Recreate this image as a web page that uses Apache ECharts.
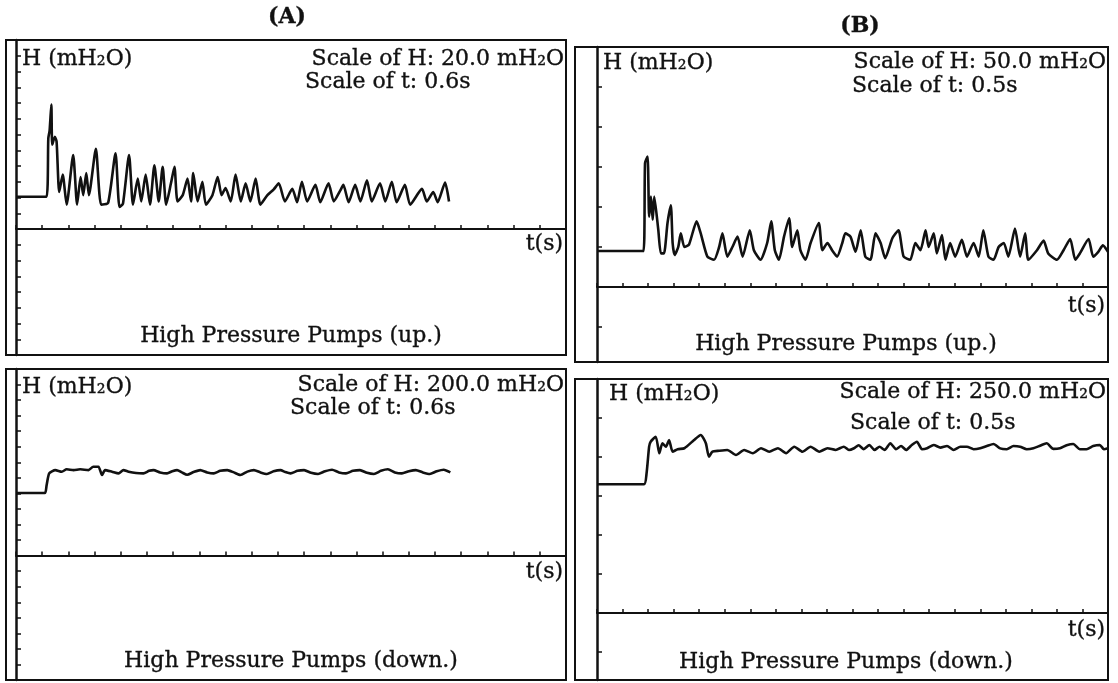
<!DOCTYPE html>
<html>
<head>
<meta charset="utf-8">
<script src="https://cdn.jsdelivr.net/npm/echarts@6/dist/echarts.min.js"></script>
<style>html,body{margin:0;padding:0;background:#fff}#c{width:1118px;height:683px}</style>
</head>
<body>
<div id="c"></div>
<script>
// ---- Data: [time (s), H (mH2O)] ----
const upA = [[0,41],[0.70,41],[0.74,115],[0.77,125],[0.81,158],[0.83,107],[0.89,117],[0.93,111],[0.99,47],[1.07,69],[1.16,31],[1.31,94],[1.40,31],[1.48,66],[1.54,43],[1.61,71],[1.67,43],[1.83,102],[1.95,31],[2.11,33],[2.28,96],[2.37,28],[2.45,32],[2.59,94],[2.68,31],[2.79,64],[2.87,35],[2.97,69],[3.07,31],[3.17,81],[3.27,35],[3.36,79],[3.44,31],[3.55,58],[3.63,79],[3.70,35],[3.82,43],[3.93,64],[4.01,35],[4.06,71],[4.16,35],[4.27,60],[4.35,31],[4.50,43],[4.62,66],[4.71,43],[4.80,52],[4.92,35],[5.03,69],[5.15,35],[5.26,58],[5.37,35],[5.49,64],[5.60,31],[5.76,43],[5.90,50],[6.02,58],[6.16,35],[6.33,51],[6.44,34],[6.55,60],[6.67,35],[6.86,56],[6.97,34],[7.16,58],[7.28,35],[7.43,49],[7.50,56],[7.62,34],[7.77,56],[7.89,35],[8.04,62],[8.15,35],[8.34,58],[8.46,35],[8.61,60],[8.72,34],[8.91,56],[9.03,31],[9.30,51],[9.41,35],[9.56,47],[9.66,34],[9.83,59],[9.92,35]];

const downA = [[0,805],[0.66,805],[0.70,900],[0.76,1058],[0.90,1100],[1.05,1079],[1.16,1110],[1.32,1100],[1.47,1110],[1.66,1100],[1.77,1143],[1.89,1143],[1.97,1036],[2.04,1100],[2.20,1079],[2.35,1058],[2.46,1100],[2.58,1079],[2.75,1062],[2.92,1058],[3.05,1090],[3.15,1100],[3.30,1070],[3.46,1058],[3.58,1085],[3.69,1100],[3.80,1070],[3.92,1040],[4.07,1075],[4.22,1100],[4.38,1070],[4.53,1058],[4.68,1090],[4.84,1100],[4.99,1070],[5.14,1036],[5.30,1080],[5.45,1100],[5.60,1070],[5.75,1050],[5.90,1085],[6.06,1100],[6.17,1075],[6.29,1058],[6.45,1090],[6.60,1100],[6.76,1065],[6.92,1050],[7.08,1085],[7.24,1105],[7.40,1070],[7.56,1058],[7.72,1090],[7.88,1100],[8.04,1065],[8.20,1050],[8.36,1090],[8.52,1110],[8.68,1070],[8.84,1058],[9.00,1085],[9.16,1100],[9.32,1070],[9.48,1050],[9.64,1085],[9.80,1105],[9.95,1070]];

const upB = [[0,45],[0.91,45],[0.94,155],[0.99,163],[1.02,88],[1.055,113],[1.09,84],[1.12,113],[1.20,71],[1.25,42],[1.31,42],[1.38,80],[1.445,102],[1.48,55],[1.52,40],[1.59,50],[1.64,67],[1.71,50],[1.80,53],[1.95,82],[2.03,67],[2.16,38],[2.29,34],[2.39,50],[2.455,67],[2.55,38],[2.65,50],[2.75,63],[2.85,38],[2.99,71],[3.07,46],[3.20,34],[3.33,55],[3.41,82],[3.48,46],[3.56,34],[3.66,63],[3.76,86],[3.82,50],[3.92,71],[3.98,46],[4.08,34],[4.18,55],[4.34,80],[4.41,46],[4.51,55],[4.60,46],[4.70,38],[4.80,55],[4.86,67],[4.96,63],[5.06,44],[5.16,71],[5.25,38],[5.35,34],[5.45,67],[5.55,55],[5.64,36],[5.78,61],[5.90,71],[6.00,38],[6.13,34],[6.23,55],[6.33,46],[6.43,71],[6.49,50],[6.59,67],[6.65,42],[6.75,65],[6.82,34],[6.91,55],[7.01,38],[7.14,59],[7.24,38],[7.37,55],[7.47,38],[7.56,71],[7.66,38],[7.76,34],[7.86,50],[7.96,55],[8.05,38],[8.18,73],[8.28,38],[8.38,67],[8.44,34],[8.61,46],[8.74,58],[8.83,42],[9.00,34],[9.13,46],[9.26,60],[9.36,34],[9.45,42],[9.62,60],[9.71,38],[9.81,44],[9.90,52],[10.0,44]];

const downB = [[0,825],[0.92,825],[0.97,895],[1.02,1066],[1.05,1098],[1.15,1130],[1.22,1024],[1.28,1088],[1.35,1066],[1.41,1109],[1.48,1034],[1.58,1050],[1.71,1056],[1.90,1109],[2.03,1141],[2.13,1088],[2.19,1002],[2.26,1034],[2.39,1040],[2.55,1045],[2.72,1013],[2.88,1045],[3.05,1024],[3.21,1056],[3.37,1034],[3.54,1056],[3.70,1024],[3.86,1066],[4.02,1034],[4.18,1066],[4.35,1034],[4.51,1056],[4.67,1045],[4.83,1066],[4.93,1045],[5.03,1056],[5.12,1075],[5.22,1050],[5.33,1077],[5.43,1045],[5.53,1066],[5.63,1045],[5.74,1088],[5.85,1050],[5.95,1070],[6.05,1045],[6.16,1077],[6.26,1098],[6.36,1050],[6.46,1056],[6.59,1077],[6.72,1060],[6.85,1070],[6.98,1045],[7.11,1066],[7.24,1066],[7.37,1050],[7.50,1056],[7.63,1070],[7.76,1083],[7.89,1055],[8.02,1050],[8.15,1070],[8.28,1066],[8.41,1050],[8.54,1056],[8.67,1072],[8.80,1088],[8.93,1052],[9.06,1056],[9.19,1075],[9.32,1083],[9.45,1050],[9.58,1050],[9.71,1070],[9.84,1077],[9.92,1050],[10.0,1056]];

// ---- Axis settings (scale per division, as printed on the chart) ----
const tStepA = 0.6, tMaxA = 12.6;
const tStepB = 0.5, tMaxB = 10;
const hStepUpA = 20, hStepDownA = 200, hStepUpB = 50, hStepDownB = 250;
const tickUpB = [-50, 0, 50, 100, 150, 200, 250, 300];
const tickDownB = [-250, 0, 250, 500, 750, 1000, 1250, 1500];

const panelTexts = [
  {scaleH: 'Scale of H: 20.0 mH₂O',  scaleT: 'Scale of t: 0.6s', title: 'High Pressure Pumps (up.)'},
  {scaleH: 'Scale of H: 200.0 mH₂O', scaleT: 'Scale of t: 0.6s', title: 'High Pressure Pumps (down.)'},
  {scaleH: 'Scale of H: 50.0 mH₂O',  scaleT: 'Scale of t: 0.5s', title: 'High Pressure Pumps (up.)'},
  {scaleH: 'Scale of H: 250.0 mH₂O', scaleT: 'Scale of t: 0.5s', title: 'High Pressure Pumps (down.)'}
];

const INK = '#111';
const FF = '"DejaVu Serif", "Liberation Serif", serif';

const grids = [
  {left: 16,  top: 40,  width: 550, height: 315},
  {left: 16,  top: 369, width: 550, height: 311},
  {left: 597, top: 47,  width: 511, height: 315},
  {left: 597, top: 379, width: 511, height: 301}
];
const boxes = [
  {x: 6,   y: 40,  w: 560, h: 315},
  {x: 6,   y: 369, w: 560, h: 311},
  {x: 575, y: 47,  w: 533, h: 315},
  {x: 575, y: 379, w: 533, h: 301}
];

function xAx(i, max, step) {
  return {type: 'value', gridIndex: i, min: 0, max: max, interval: step,
    axisLine: {show: true, onZero: true, lineStyle: {color: INK, width: 2}},
    axisTick: {show: true, inside: true, length: 4, lineStyle: {color: INK, width: 1.5}},
    axisLabel: {show: false}, splitLine: {show: false}};
}
function yAx(i, min, max, step, custom) {
  const a = {type: 'value', gridIndex: i, min: min, max: max,
    axisLine: {show: true, onZero: false, lineStyle: {color: INK, width: 2.5}},
    axisTick: {show: true, inside: true, length: 5, lineStyle: {color: INK, width: 1.5}},
    axisLabel: {show: false}, splitLine: {show: false}};
  if (custom) { a.axisTick.customValues = custom; a.splitNumber = 8; }
  else a.interval = step;
  return a;
}
function txt(x, y, text, align, size, weight) {
  return {type: 'text', x: x, y: y, silent: true, z: 100,
    style: {text: text, fill: INK, fontFamily: FF, fontSize: size || 22, fontWeight: weight || 'normal',
      stroke: INK, lineWidth: 0.35,
      align: align || 'left', textAlign: align || 'left', verticalAlign: 'top', textVerticalAlign: 'top'}};
}

const graphic = [];
boxes.forEach(b => graphic.push({type: 'rect', shape: {x: b.x, y: b.y, width: b.w, height: b.h}, silent: true, z: 90,
  style: {fill: 'none', stroke: INK, lineWidth: 2}}));

graphic.push(txt(287, 6, '(A)', 'center', 22, 'bold'));
graphic.push(txt(860, 15, '(B)', 'center', 22, 'bold'));

// A up
graphic.push(txt(22, 48, 'H (mH₂O)'));
graphic.push(txt(564, 48, panelTexts[0].scaleH, 'right'));
graphic.push(txt(305, 71, panelTexts[0].scaleT));
graphic.push(txt(563, 233, 't(s)', 'right'));
graphic.push(txt(291, 325, panelTexts[0].title, 'center'));
// A down
graphic.push(txt(22, 376, 'H (mH₂O)'));
graphic.push(txt(564, 374, panelTexts[1].scaleH, 'right'));
graphic.push(txt(290, 397, panelTexts[1].scaleT));
graphic.push(txt(563, 561, 't(s)', 'right'));
graphic.push(txt(291, 650, panelTexts[1].title, 'center'));
// B up
graphic.push(txt(603, 52, 'H (mH₂O)'));
graphic.push(txt(1106, 51, panelTexts[2].scaleH, 'right'));
graphic.push(txt(852, 75, panelTexts[2].scaleT));
graphic.push(txt(1105, 295, 't(s)', 'right'));
graphic.push(txt(846, 333, panelTexts[2].title, 'center'));
// B down
graphic.push(txt(609, 383, 'H (mH₂O)'));
graphic.push(txt(1106, 381, panelTexts[3].scaleH, 'right'));
graphic.push(txt(850, 412, panelTexts[3].scaleT));
graphic.push(txt(1105, 619, 't(s)', 'right'));
graphic.push(txt(846, 651, panelTexts[3].title, 'center'));

function ser(i, data) {
  return {type: 'line', xAxisIndex: i, yAxisIndex: i, data: data, showSymbol: false, symbol: 'none',
    smooth: 0.2, lineStyle: {color: INK, width: 2.6}, silent: true, z: 10};
}

const option = {
  animation: false,
  backgroundColor: '#fff',
  grid: grids.map(g => Object.assign({containLabel: false, outerBoundsMode: 'none'}, g)),
  xAxis: [xAx(0, tMaxA, tStepA), xAx(1, tMaxA, tStepA), xAx(2, tMaxB, tStepB), xAx(3, tMaxB, tStepB)],
  yAxis: [
    yAx(0, -8 * hStepUpA, 12 * hStepUpA, hStepUpA),
    yAx(1, -8 * hStepDownA, 12 * hStepDownA, hStepDownA),
    yAx(2, -1.875 * hStepUpB, 6 * hStepUpB, hStepUpB, tickUpB),
    yAx(3, -1.72 * hStepDownB, 6 * hStepDownB, hStepDownB, tickDownB)
  ],
  series: [ser(0, upA), ser(1, downA), ser(2, upB), ser(3, downB)],
  graphic: graphic
};
const chart = echarts.init(document.getElementById('c'), null, {renderer: 'canvas'});
chart.setOption(option);
</script>
</body>
</html>
